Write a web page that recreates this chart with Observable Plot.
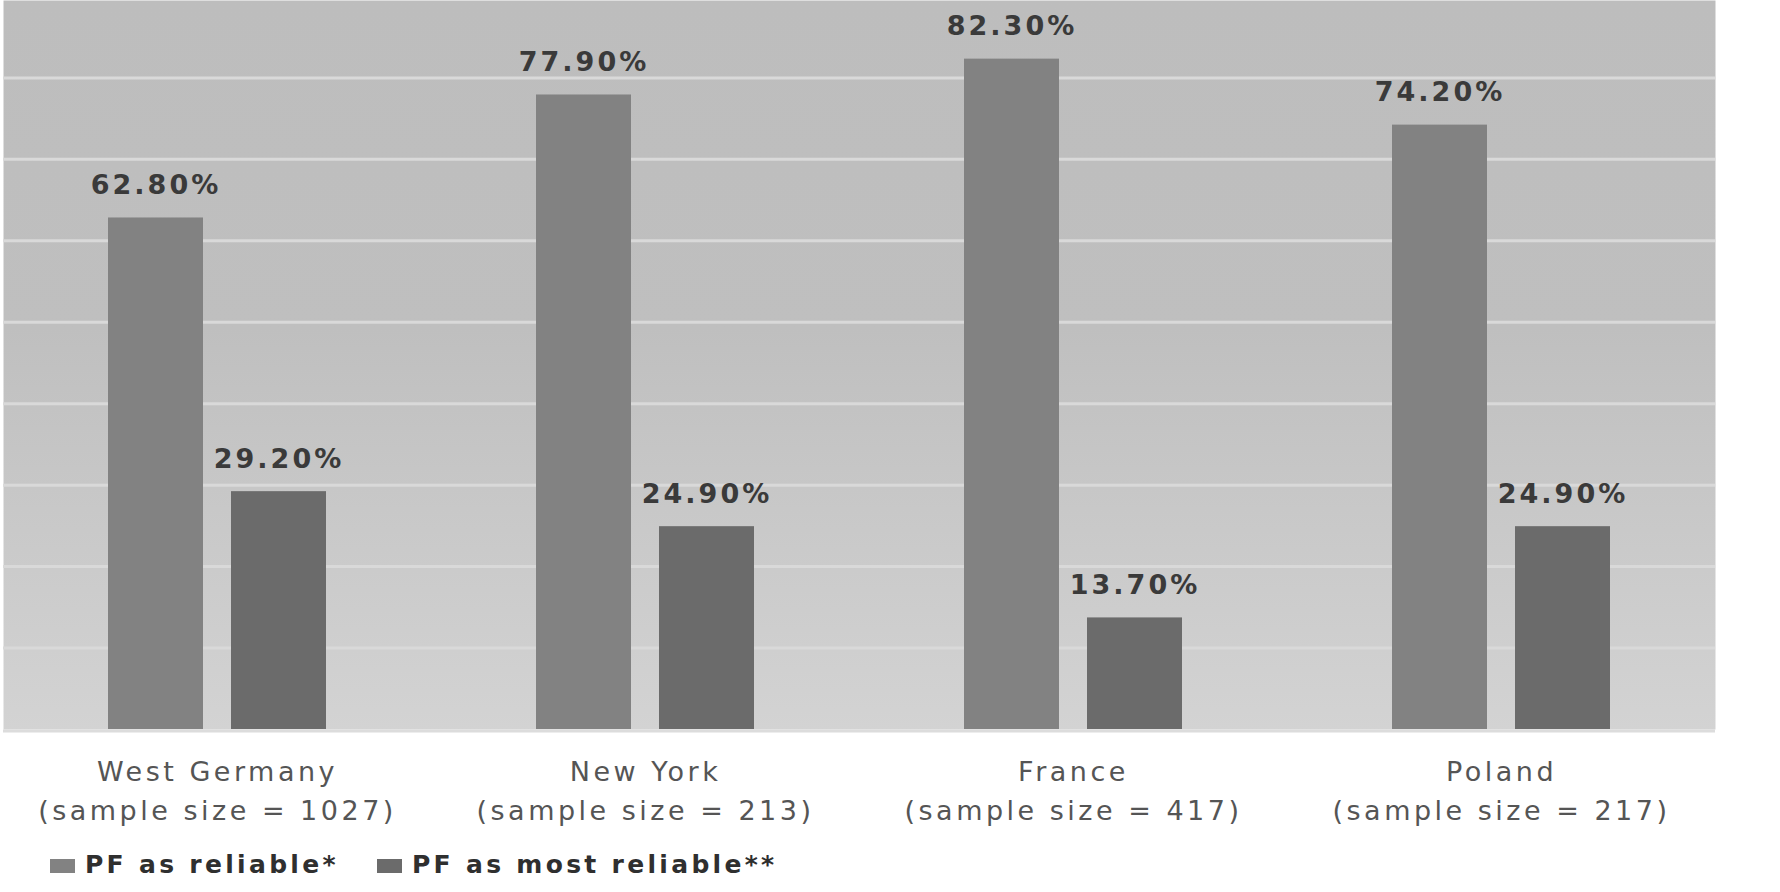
<!DOCTYPE html>
<html>
<head>
<meta charset="utf-8">
<script src="https://cdn.jsdelivr.net/npm/d3@7"></script>
<script src="https://cdn.jsdelivr.net/npm/@observablehq/plot@0.6"></script>
<style>
  html, body { margin: 0; padding: 0; background: #ffffff; }
  body { font-family: "DejaVu Sans", sans-serif; width: 1780px; }
  #legend { position: relative; height: 52px; font-size: 25px; font-weight: bold; color: #2f2f2f;
            letter-spacing: 3.3px; white-space: nowrap; }
  .sw { position: absolute; width: 25px; height: 14px; top: 19px; }
  .lt { position: absolute; top: 10px; line-height: 30px; }
</style>
</head>
<body>
<div id="chart"></div>
<div id="legend"></div>
<script>
const countries = ["West Germany", "New York", "France", "Poland"];
const sampleSizes = [1027, 213, 417, 217];
const series = ["PF as reliable*", "PF as most reliable**"];
const reliable = [62.8, 77.9, 82.3, 74.2];
const mostReliable = [29.2, 24.9, 13.7, 24.9];
const seriesColors = ["#828282", "#6b6b6b"];
const gridTicks = [10, 20, 30, 40, 50, 60, 70, 80];

const data = countries.flatMap((c, i) => [
  {country: c, series: series[0], value: reliable[i]},
  {country: c, series: series[1], value: mostReliable[i]}
]);
const catLabels = countries.map((c, i) => ({country: c, text: `${c}\n(sample size = ${sampleSizes[i]})`}));

const chart = Plot.plot({
  width: 1780,
  height: 840,
  marginTop: 0,
  marginBottom: 111,
  marginLeft: 3,
  marginRight: 65,
  style: {fontFamily: "DejaVu Sans", background: "#ffffff"},
  fx: {domain: countries, padding: 0, axis: null},
  x: {domain: series, paddingInner: 0.2276, paddingOuter: 0.8496, axis: null},
  y: {domain: [0, 89.5], axis: null},
  color: {domain: series, range: seriesColors},
  marks: [
    Plot.frame({fill: "url(#bgGrad)", stroke: "none", facet: "super"}),
    Plot.gridY(gridTicks, {stroke: "#d9d9d9", strokeOpacity: 1, strokeWidth: 3}),
    Plot.ruleY([0], {stroke: "#dcdcdc", strokeWidth: 3, dy: 1.5}),
    Plot.barY(data, {fx: "country", x: "series", y: "value", fill: "series"}),
    Plot.text(data, {
      fx: "country", x: "series", y: "value",
      text: d => d.value.toFixed(2) + "%",
      lineAnchor: "bottom", dy: -24,
      fontSize: 27, fontWeight: "bold", fill: "#3a3a3a",
      ariaDescription: "value-labels"
    }),
    Plot.text(catLabels, {
      fx: "country", frameAnchor: "bottom", text: "text",
      lineAnchor: "top", dy: 24, lineHeight: 1.44,
      fontSize: 27, fill: "#555555",
      ariaDescription: "category-labels"
    })
  ]
});

const svg = d3.select(chart);
const grad = svg.insert("defs", ":first-child").append("linearGradient")
  .attr("id", "bgGrad").attr("x1", 0).attr("y1", 0).attr("x2", 0).attr("y2", 1);
grad.append("stop").attr("offset", "0%").attr("stop-color", "#bdbdbd");
grad.append("stop").attr("offset", "45%").attr("stop-color", "#bfbfbf");
grad.append("stop").attr("offset", "100%").attr("stop-color", "#d3d3d3");
svg.selectAll('g[aria-description="value-labels"] text').style("letter-spacing", "3px");
svg.selectAll('g[aria-description="category-labels"] text').style("letter-spacing", "3.5px");

document.getElementById("chart").appendChild(chart);

const legendLeft = [50, 377];
const legend = d3.select("#legend");
series.forEach((s, i) => {
  legend.append("span").attr("class", "sw").style("left", legendLeft[i] + "px").style("background", seriesColors[i]);
  legend.append("span").attr("class", "lt").style("left", (legendLeft[i] + 35) + "px").text(s);
});
</script>
</body>
</html>
